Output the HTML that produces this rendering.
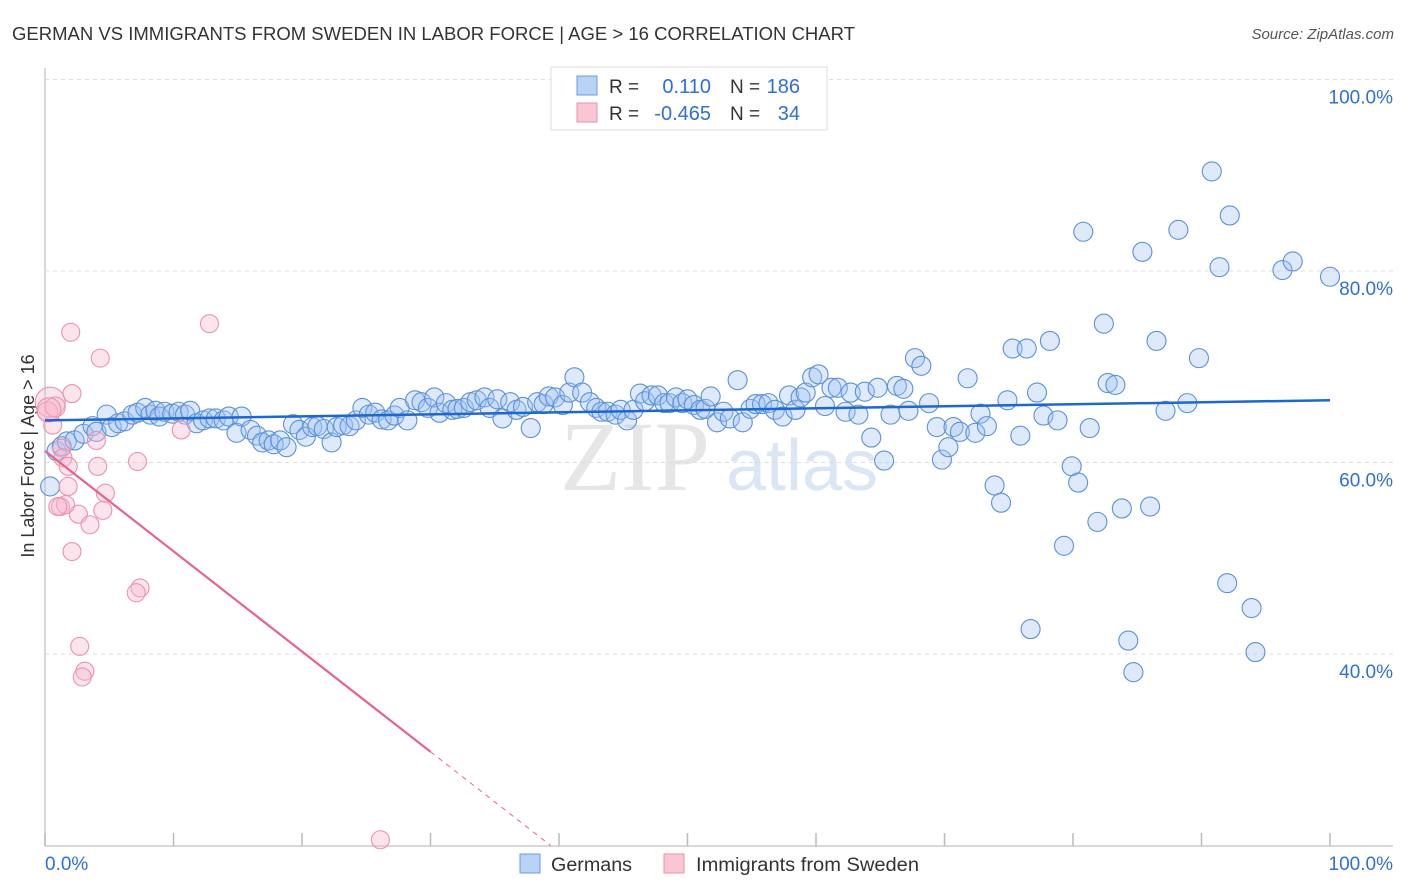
<!DOCTYPE html>
<html><head><meta charset="utf-8"><style>
body{margin:0;background:#fff;font-family:"Liberation Sans",sans-serif;}
#wrap{position:relative;width:1406px;height:892px;overflow:hidden;}
</style></head><body>
<div id="wrap">
<svg id="svg" width="1406" height="892" xmlns="http://www.w3.org/2000/svg">
<text x="12" y="40" font-size="18" fill="#333" textLength="843" lengthAdjust="spacingAndGlyphs">GERMAN VS IMMIGRANTS FROM SWEDEN IN LABOR FORCE | AGE &gt; 16 CORRELATION CHART</text>
<text x="1394" y="39" font-size="15" fill="#555" font-style="italic" text-anchor="end">Source: ZipAtlas.com</text>
<text x="635" y="490" font-size="100" fill="#e6e6e6" font-family="Liberation Serif, serif" text-anchor="middle">ZIP</text>
<text x="802" y="490" font-size="72" fill="#dbe6f5" text-anchor="middle">atlas</text>
<text transform="translate(34,456) rotate(-90)" font-size="18" fill="#333" text-anchor="middle">In Labor Force | Age &gt; 16</text>
<g id="grid"></g><g id="pts"></g><g id="lines"></g>
<g>
<rect x="551" y="67" width="276" height="63" fill="#fff" stroke="#ddd"/>
<rect x="577" y="76" width="20" height="19" fill="#b8d3f5" stroke="#6a9be0"/>
<rect x="577" y="103" width="20" height="19" fill="#f9c6d4" stroke="#ec90aa"/>
<text x="609" y="93" font-size="19" fill="#333">R = </text>
<text x="711" y="93" font-size="20" fill="#2f6fd6" text-anchor="end">0.110</text>
<text x="730" y="93" font-size="19" fill="#333">N = </text>
<text x="800" y="93" font-size="20" fill="#2f6fd6" text-anchor="end">186</text>
<text x="609" y="120" font-size="19" fill="#333">R = </text>
<text x="711" y="120" font-size="20" fill="#2f6fd6" text-anchor="end">-0.465</text>
<text x="730" y="120" font-size="19" fill="#333">N = </text>
<text x="800" y="120" font-size="20" fill="#2f6fd6" text-anchor="end">34</text>
</g>
<g>
<rect x="520" y="854" width="20" height="19" fill="#b8d3f5" stroke="#6a9be0"/>
<text x="551" y="871" font-size="19" fill="#333" textLength="81" lengthAdjust="spacingAndGlyphs">Germans</text>
<rect x="664" y="854" width="20" height="19" fill="#f9c6d4" stroke="#ec90aa"/>
<text x="696" y="871" font-size="19" fill="#333" textLength="223" lengthAdjust="spacingAndGlyphs">Immigrants from Sweden</text>
</g>
<text x="45" y="870" font-size="19" fill="#2f6fd6">0.0%</text>
<text x="1393" y="870" font-size="19" fill="#2f6fd6" text-anchor="end">100.0%</text>
</svg>
</div>
<script>
const yTicks=[100,80,60,40];
const xTickVals=[0,10,20,30,40,50,60,70,80,90,100];
const blueX=[0.4,0.9,1.3,1.7,2.3,3.0,3.7,4.0,4.8,5.2,5.7,6.2,6.8,7.2,7.8,8.2,8.6,8.9,9.3,9.9,10.4,10.9,11.3,11.8,12.3,12.8,13.3,13.9,14.3,14.9,15.3,16.0,16.5,16.9,17.4,17.8,18.3,18.8,19.3,19.8,20.3,20.8,21.2,21.7,22.3,22.7,23.2,23.7,24.2,24.7,25.2,25.7,26.2,26.7,27.2,27.6,28.2,28.8,29.3,29.8,30.3,30.7,31.2,31.7,32.1,32.6,33.1,33.6,34.2,34.6,35.2,35.6,36.2,36.7,37.2,37.8,38.3,38.8,39.2,39.7,40.3,40.8,41.2,41.8,42.4,42.9,43.3,43.8,44.4,44.8,45.3,45.8,46.3,46.7,47.2,47.7,48.2,48.6,49.1,49.6,50.0,50.5,51.0,51.4,51.8,52.3,52.8,53.3,53.9,54.3,54.9,55.3,55.8,56.3,56.8,57.4,57.9,58.4,58.8,59.2,59.7,60.2,60.7,61.2,61.7,62.3,62.7,63.3,63.8,64.3,64.8,65.3,65.8,66.3,66.8,67.2,67.7,68.2,68.8,69.4,69.8,70.3,70.7,71.2,71.8,72.4,72.8,73.3,73.9,74.4,74.9,75.3,75.9,76.4,77.2,77.7,78.2,78.8,79.3,79.9,80.4,80.8,81.3,81.9,82.4,82.7,83.3,83.8,84.3,84.7,85.4,86.0,86.5,87.2,88.2,88.9,89.8,90.8,91.4,92.0,92.2,93.9,94.2,96.3,97.1,100.0,76.7];
const blueY=[57.5,61.2,61.7,62.2,62.3,63.0,63.8,63.2,65.0,63.7,64.1,64.3,65.0,65.2,65.7,65.0,65.4,64.8,65.3,65.1,65.3,65.0,65.4,64.1,64.4,64.6,64.6,64.4,64.8,63.1,64.8,63.4,62.8,62.1,62.3,61.9,62.3,61.6,64.0,63.4,62.7,63.7,63.8,63.5,62.1,63.7,63.9,63.8,64.4,65.7,65.0,65.2,64.5,64.4,64.9,65.7,64.4,66.5,66.3,65.7,66.8,65.2,66.2,65.5,65.6,65.7,66.3,66.5,66.8,65.7,66.6,64.6,66.3,65.5,65.8,63.6,66.3,66.1,66.9,66.8,66.0,67.3,68.9,67.3,66.3,65.7,65.3,65.3,65.0,65.5,64.4,65.5,67.2,66.4,67.0,67.0,66.2,66.2,66.8,66.2,66.6,66.0,65.5,65.6,66.9,64.2,65.3,64.6,68.6,64.2,65.6,66.1,66.1,66.2,65.5,64.8,67.0,65.5,66.8,67.3,68.9,69.2,65.9,67.8,67.8,65.3,67.3,65.0,67.4,62.6,67.8,60.2,65.0,68.0,67.7,65.4,70.9,70.1,66.2,63.7,60.3,61.6,63.7,63.2,68.8,63.1,65.1,63.8,57.6,55.8,66.5,71.9,62.8,71.9,67.3,64.9,72.7,64.4,51.3,59.6,57.9,84.1,63.6,53.8,74.5,68.3,68.1,55.2,41.4,38.1,82.0,55.4,72.7,65.4,84.3,66.2,70.9,90.4,80.4,47.4,85.8,44.8,40.2,80.1,81.0,79.4,42.6];
const pinkX=[0.4,0.2,0.6,0.8,1.3,1.4,2.0,2.1,1.8,1.8,2.1,2.6,1.2,1.6,1.0,3.5,4.0,4.3,4.1,4.5,4.7,2.7,3.1,2.9,7.2,7.4,7.1,10.6,12.8,26.1,0.3];
const pinkY=[66.3,65.3,63.9,65.8,61.5,60.5,73.6,67.2,59.6,57.5,50.7,54.6,55.4,55.6,55.4,53.5,62.3,70.9,59.6,55.0,56.8,40.8,38.2,37.6,60.1,46.9,46.4,63.4,74.5,20.6,65.5];
const pinkR=[15,10,9,10,9,9,9,9,9,9,9,9,9,9,9,9,9,9,9,9,9,9,9,9,9,9,9,9,9,9,12];
const blueTrend=[64.4,66.5];
const pinkTrend=[61.2,-1.047];
const NS='http://www.w3.org/2000/svg';
const X=v=>45+v*12.85, Y=v=>1037-v*9.575;
function mk(tag,attrs,parent){const e=document.createElementNS(NS,tag);for(const k in attrs)e.setAttribute(k,attrs[k]);document.getElementById(parent).appendChild(e);return e;}
let e;
e=mk('line',{x1:45,y1:68,x2:45,y2:846,stroke:'#ccc','stroke-width':1.5},'grid');


e=mk('line',{x1:45,y1:846,x2:1393,y2:846,stroke:'#ccc','stroke-width':1.5},'grid');


yTicks.forEach(t=>{
 e=mk('line',{x1:45,y1:Y(t),x2:1393,y2:Y(t),stroke:'#ddd','stroke-dasharray':'4,4'},'grid');
 
 
 e=mk('text',{x:1393,y:Y(t)+24,'font-size':19,fill:'#2f6fd6','text-anchor':'end'},'grid');
 e.textContent=t.toFixed(1)+'%';
 
 
});
xTickVals.forEach(t=>{
 e=mk('line',{x1:X(t),y1:833,x2:X(t),y2:846,stroke:'#bbb','stroke-width':1.5},'grid');
 
 
});
blueX.forEach((x,i)=>{
 e=mk('circle',{cx:X(x),cy:Y(blueY[i]),r:9.5,fill:'rgba(160,196,240,0.35)',stroke:'#5a90dd','stroke-width':1.1},'pts');
 
 
});
pinkX.forEach((x,i)=>{
 e=mk('circle',{cx:X(x),cy:Y(pinkY[i]),r:pinkR[i],fill:'rgba(248,185,205,0.38)',stroke:'#eb92ac','stroke-width':1.1},'pts');
 
 
});
e=mk('line',{x1:X(0),y1:Y(blueTrend[0]),x2:X(100),y2:Y(blueTrend[1]),stroke:'#1e66d0','stroke-width':2.5},'lines');


const pAt=x=>pinkTrend[0]+pinkTrend[1]*x;
const xEnd=(20-pinkTrend[0])/pinkTrend[1];
e=mk('line',{x1:X(0),y1:Y(pAt(0)),x2:X(30),y2:Y(pAt(30)),stroke:'#e8628e','stroke-width':2.2},'lines');


e=mk('line',{x1:X(30),y1:Y(pAt(30)),x2:X(xEnd),y2:Y(20),stroke:'#e8628e','stroke-width':1,'stroke-dasharray':'5,5'},'lines');


</script>
</body></html>
